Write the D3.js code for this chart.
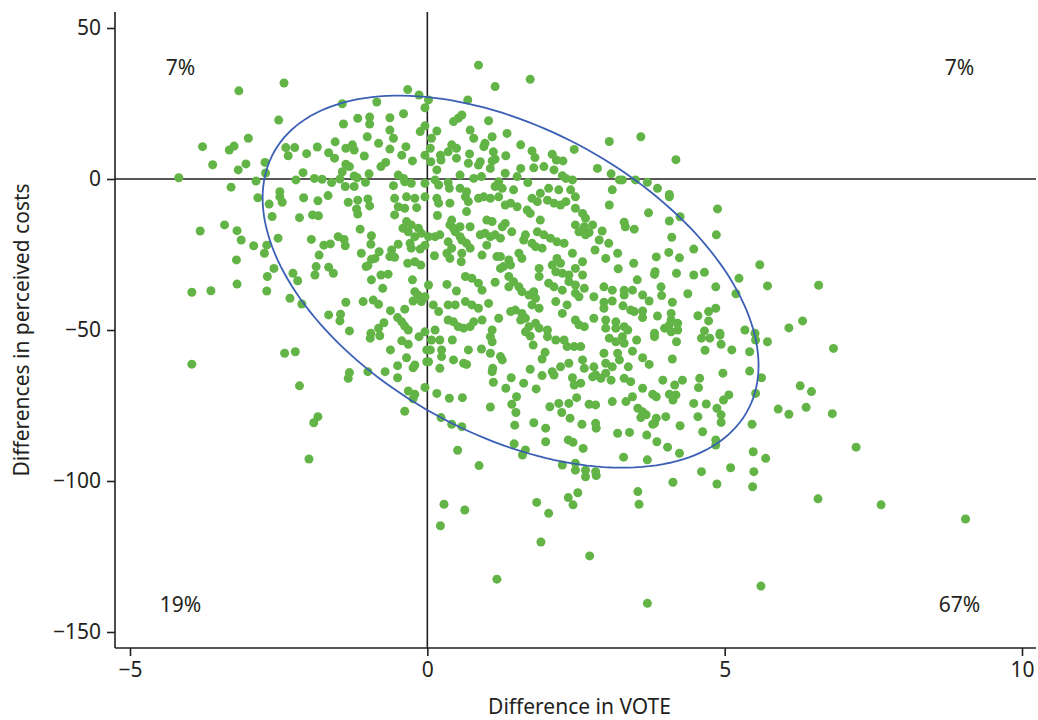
<!DOCTYPE html>
<html>
<head>
<meta charset="utf-8">
<script src="https://d3js.org/d3.v7.min.js"></script>
<style>
  body { margin: 0; background: #fff; }
  text { font-family: "Noto Sans", "Open Sans", sans-serif; fill: #231f20; }
</style>
</head>
<body>
<div id="viz"></div>
<script>
// difference in VOTE (x) vs difference in perceived costs (y)
var points = [
  [-3.17,29.2],[-3.78,10.7],[-3.33,9.6],[-3.25,10.9],[-3.01,13.5],[-3.61,4.7],[-3.18,3.0],[-3.05,5.0],[-4.18,0.4],[-2.88,-0.7],
  [-3.30,-2.7],[-2.85,-6.2],[-3.82,-17.2],[-3.41,-15.2],[-3.20,-17.1],[-3.13,-20.2],[-2.92,-22.1],[-3.21,-26.8],[-3.96,-37.5],[-3.64,-37.0],
  [-3.20,-34.8],[-3.96,-61.3],
  [-2.41,31.8],[-0.33,29.6],[-0.14,27.8],[-1.43,24.9],[-0.85,25.5],[-0.04,23.6],[-2.5,19.5],[-1.17,20.1],[-0.97,20.5],[-0.97,18.2],
  [-1.41,18.2],[-0.63,20.3],[-0.4,21.6],[-0.04,17.6],[-0.63,16.2],[-0.12,15.7],[-1.01,14.0],[-0.57,13.5],[-1.55,12.3],[-0.82,11.8],
  [-0.36,10.7],[-2.38,10.4],[-2.23,10.4],[-1.85,10.6],[-1.37,10.2],[-1.26,11.3],[-1.23,9.6],[-0.63,9.9],[-2.34,7.7],[-2.03,8.4],
  [-1.66,8.7],[-1.56,6.9],[-1.06,7.6],[-0.43,7.9],[-0.25,6.0],[-0.04,7.9],[-2.73,5.5],[-1.37,4.9],[-1.31,4.1],[-0.70,5.5],
  [-0.78,4.1],[-2.72,2.0],[-2.09,2.1],[-1.43,2.4],[-1.23,1.0],[-1.18,0.4],[-0.98,1.7],[-0.49,1.3],[-0.4,0.2],[-2.21,-0.3],
  [-1.9,0.2],[-1.77,-0.1],[-1.61,-1.2],[-1.47,0],[-1.04,-1.1],[-0.27,-1.4],[-0.38,-0.9],[-2.48,-4.2],[-1.38,-2.5],[-1.23,-2.5],
  [-0.57,-2.2],[-0.04,-1.4],
  [-2.66,-8.3],[-2.48,-5.9],[-2.44,-7.7],[-2.08,-6.2],[-1.84,-7.2],[-1.67,-5.5],[-1.33,-7.7],[-1.17,-7.0],[-1.0,-6.6],[-1.19,-9.9],
  [-1.17,-11.6],[-0.97,-8.9],[-0.55,-6.4],[-0.35,-5.9],[-0.21,-6.4],[-0.04,-5.9],[-0.49,-9.2],[-0.38,-9.7],[-0.18,-9.5],[-0.55,-11.9],
  [-2.61,-12.4],[-2.15,-12.8],[-1.93,-11.9],[-1.83,-12.2],[-0.35,-14.1],[-0.27,-15.2],[-0.41,-16.3],[-0.32,-17.5],[-0.15,-16.3],[-0.1,-18.0],
  [-0.21,-19.1],[-1.13,-16.6],[-0.94,-18.8],[-2.51,-19.6],[-1.95,-20.0],[-1.5,-19.1],[-1.4,-20.0],[-2.70,-21.9],[-2.74,-24.6],[-1.74,-21.9],
  [-1.63,-21.5],[-1.38,-22.1],[-0.95,-21.6],[-0.49,-21.6],[-0.29,-21.3],[-0.27,-22.9],[-0.12,-23.2],[-0.04,-21.9],[-1.82,-25.2],[-1.11,-24.6],
  [-0.81,-24.1],[-0.6,-23.5],[-0.55,-25.9],[-0.63,-25.7],[-0.94,-26.6],[-0.88,-26.3],[-1.0,-28.7],[-1.03,-29.0],[-0.33,-27.9],[-0.21,-27.4],
  [-0.11,-28.5],[-2.58,-29.6],[-2.26,-31.2],[-2.18,-33.7],[-1.87,-29.0],[-1.89,-31.8],[-1.66,-29.2],[-1.58,-31.2],[-2.69,-32.3],[-0.94,-33.4],
  [-0.78,-31.8],[-0.66,-31.5],[-0.75,-36.2],[-0.25,-33.4],[-2.70,-37.1],[-0.21,-37.3],[-0.16,-38.4],[-0.24,-40.4],[-0.1,-40.6],[-0.04,-39.0],
  [-2.31,-39.5],[-2.11,-41.4],[-1.37,-40.8],[-1.08,-40.6],[-0.91,-40.1],[-0.82,-41.5],[-0.62,-43.6],[-0.38,-43.1],[-1.66,-45.0],[-1.46,-44.8],
  [-1.47,-47.0],[-0.73,-47.6],[-0.82,-49.4],[-0.50,-45.9],[-0.43,-47.3],[-0.38,-48.7],[-1.31,-50.3],[-0.95,-51.1],[-0.32,-50.0],[-0.04,-50.6],
  [-0.96,-52.7],[-0.80,-51.9],[-0.43,-53.6],[-0.32,-54.7],[-0.14,-52.2],[-0.01,-56.6],[-2.40,-57.7],[-2.22,-57.2],[-0.62,-56.6],[-0.35,-59.2],
  [-0.50,-61.8],[-0.24,-62.5],[-0.21,-61.6],[-0.01,-60.5],[-1.31,-64.1],[-1.33,-66.0],[-1.0,-63.8],[-0.71,-63.8],[-0.50,-65.8],[-2.15,-68.5],
  [-0.32,-70.2],[-0.21,-71.3],[-0.24,-72.8],[-0.04,-69.0],[-0.38,-76.9],[-1.84,-78.7],[-1.91,-80.7],[-1.99,-92.7],
  [0.86,37.7],[1.73,33.0],[1.14,30.6],[0.02,26.2],[0.68,26.2],[0.58,21.2],[0.52,20.1],[0.44,19.0],[1.03,19.3],[0.16,15.9],
  [0.72,16.2],[0.78,13.5],[1.34,15.1],[1.09,14.0],[0.07,13.5],[0.05,10.2],[0.97,11.8],[0.95,10.7],[1.57,11.3],[0.41,11.3],
  [0.49,10.2],[0.35,9.0],[0.22,7.9],[0.23,6.3],[0.49,6.9],[0.71,8.3],[1.11,9.0],[1.14,6.6],[1.09,6.0],[1.32,7.7],
  [1.76,9.3],[1.81,7.1],[2.10,8.2],[2.17,6.3],[2.28,6.0],[2.47,9.8],[2.86,3.5],[0.06,5.7],[0.69,5.2],[0.89,5.7],
  [0.86,4.6],[1.06,3.5],[1.57,3.5],[1.79,3.7],[1.96,4.1],[2.13,3.0],[0.16,3.0],[0.55,1.3],[0.78,0.2],[0.91,0.8],
  [1.31,1.9],[1.51,0.8],[2.27,1.1],[2.33,0.2],[2.44,-0.3],[0.13,-0.3],[0.19,-2.0],[0.35,-1.2],[0.37,-3.1],[0.55,-3.1],
  [0.66,-4.2],[1.20,-0.9],[1.26,-3.1],[1.14,-2.5],[1.45,-3.6],[1.69,-1.2],[2.04,-3.1],[2.21,-3.6],[2.41,-3.6],[1.90,-4.7],
  [3.59,14.0],[3.06,12.4],[4.18,6.4],[3.09,1.7],[3.23,-0.3],[3.28,-0.3],[3.50,-0.3],[3.70,-1.1],[3.87,-3.1],[4.07,-5.1],
  [3.11,-3.6],
  [0.16,-6.4],[0.19,-8.0],[0.38,-8.0],[0.64,-5.9],[0.69,-7.5],[0.86,-6.4],[0.95,-5.9],[1.06,-6.4],[1.20,-5.9],[1.31,-8.6],
  [1.40,-8.0],[1.51,-9.2],[1.76,-6.4],[1.85,-7.5],[2.02,-7.0],[2.13,-8.0],[2.24,-8.6],[2.33,-7.5],[2.49,-5.9],[2.49,-9.7],
  [2.61,-11.4],[2.66,-13.0],[0.17,-12.1],[0.66,-10.8],[1.0,-13.6],[1.09,-14.1],[1.31,-14.7],[1.26,-15.8],[1.68,-10.3],[1.73,-11.4],
  [1.90,-13.6],[0.41,-13.6],[0.38,-15.2],[0.44,-16.3],[0.55,-15.8],[0.72,-15.8],[2.49,-15.2],[2.64,-15.8],[2.78,-15.2],[0.02,-19.1],
  [0.13,-19.1],[0.21,-18.5],[0.47,-17.5],[0.55,-19.1],[0.58,-20.2],[0.89,-18.5],[0.97,-18.0],[1.06,-19.1],[1.14,-18.5],[1.23,-19.6],
  [1.42,-17.5],[1.65,-18.5],[1.62,-20.2],[1.85,-17.5],[1.96,-18.5],[2.07,-19.6],[2.18,-20.8],[2.30,-21.3],[2.55,-17.5],[2.66,-18.5],
  [2.72,-17.7],[0.35,-20.8],[0.41,-22.9],[0.66,-21.3],[0.72,-22.9],[1.0,-21.9],[1.76,-21.3],[1.82,-22.4],[1.93,-22.9],[0.12,-25.4],
  [0.33,-24.6],[0.38,-26.3],[0.58,-24.6],[0.57,-27.4],[0.92,-25.2],[1.17,-25.7],[1.23,-25.7],[1.37,-26.8],[1.40,-28.5],[1.54,-24.6],
  [1.59,-26.3],[2.18,-26.3],[2.24,-27.9],[2.10,-28.5],[2.44,-24.6],[2.61,-27.4],[2.82,-23.5],[1.23,-29.6],[1.28,-29.0],[1.88,-29.6],
  [2.16,-30.7],[2.27,-31.2],[2.38,-31.8],[2.49,-29.6],[2.61,-31.8],[0.02,-35.1],[0.33,-34.9],[0.49,-37.1],[0.64,-32.3],[0.75,-32.9],
  [0.86,-34.5],[0.92,-36.8],[1.14,-34.2],[1.37,-32.3],[1.45,-34.0],[1.54,-35.7],[1.37,-35.7],[1.59,-37.3],[1.71,-38.4],[1.79,-37.3],
  [1.82,-39.5],[1.88,-32.3],[2.04,-34.5],[2.13,-35.7],[2.27,-36.8],[2.38,-34.0],[2.49,-35.1],[2.49,-37.8],[2.55,-39.0],[2.64,-36.2],
  [2.80,-39.0],[0.10,-41.7],[0.35,-41.7],[0.47,-41.7],[0.64,-40.6],[0.75,-41.7],[0.86,-42.8],[1.03,-41.2],[1.48,-43.4],[1.59,-44.5],
  [1.57,-46.7],[1.76,-41.7],[1.88,-42.8],[2.16,-40.6],[2.35,-41.7],[0.19,-43.9],[0.35,-46.7],[0.44,-47.3],[0.52,-48.9],[0.61,-49.4],
  [0.72,-48.9],[0.78,-47.3],[0.92,-46.7],[1.20,-46.1],[1.40,-43.9],[1.65,-46.1],[1.71,-48.9],[1.82,-47.8],[1.88,-49.4],[2.02,-50.0],
  [2.27,-44.5],[2.49,-46.7],[2.55,-48.3],[2.64,-48.9],[2.80,-46.1],[0.13,-50.0],[1.09,-50.0],[1.65,-50.6],
  [0.07,-53.3],[0.21,-53.3],[0.42,-53.3],[0.05,-56.6],[0.24,-56.6],[0.24,-58.8],[0.69,-56.6],[0.91,-56.3],[1.06,-52.2],[1.09,-53.9],
  [1.06,-57.7],[1.23,-58.8],[1.26,-59.9],[1.73,-52.0],[1.78,-55.0],[1.98,-57.4],[1.93,-59.6],[2.02,-52.2],[2.16,-53.3],[2.30,-53.3],
  [2.35,-55.5],[2.47,-55.5],[2.58,-55.5],[0.02,-60.5],[0.44,-59.9],[0.61,-61.0],[0.66,-61.4],[0.21,-62.7],[1.10,-62.7],[1.09,-63.8],
  [1.73,-63.0],[1.93,-65.1],[2.10,-63.8],[2.13,-64.9],[2.24,-62.2],[2.38,-61.0],[2.61,-59.9],[2.64,-62.7],[2.80,-62.2],[2.83,-64.9],
  [2.78,-65.5],[1.11,-67.3],[1.41,-65.8],[1.62,-67.6],[2.44,-65.8],[2.47,-68.2],[2.58,-67.6],[1.32,-69.3],[1.83,-69.5],[0.16,-71.0],
  [0.37,-72.6],[0.59,-72.4],[1.50,-72.1],[1.42,-74.6],[1.49,-77.3],[2.51,-72.4],[1.06,-75.5],[2.06,-75.4],[2.21,-74.3],[2.38,-74.3],
  [2.26,-77.3],[2.72,-74.6],[2.83,-74.8],[2.40,-79.2],[0.23,-79.0],[0.41,-81.2],[0.58,-82.0],[1.47,-81.5],[1.79,-80.7],[1.99,-82.5],
  [2.60,-81.2],[2.83,-80.9],[2.84,-82.5],[1.99,-87.0],[2.37,-86.4],[2.45,-87.2],[2.62,-89.2],[0.51,-89.8],[1.46,-87.7],[1.65,-89.7],
  [1.60,-91.4],[0.87,-94.9],[2.27,-94.7],[2.49,-94.1],[2.49,-96.4],[2.66,-96.4],[2.83,-96.9],
  [4.07,-5.9],[3.06,-8.6],[3.72,-11.2],[4.25,-12.5],[4.88,-9.9],[4.07,-13.9],[3.31,-14.3],[3.33,-15.8],[3.48,-16.6],[2.94,-17.2],
  [2.89,-20.2],[4.11,-19.3],[4.86,-18.5],[3.05,-21.3],[3.20,-24.6],[3.00,-26.3],[4.48,-23.2],[4.06,-24.3],[3.85,-25.8],[4.24,-26.1],
  [3.47,-27.9],[5.59,-28.4],[3.21,-29.7],[3.83,-30.7],[3.82,-31.6],[4.19,-31.2],[4.48,-31.8],[4.66,-30.9],[5.24,-32.9],[3.53,-33.4],
  [2.97,-35.7],[3.11,-36.8],[3.31,-36.8],[3.31,-38.4],[3.45,-36.8],[3.93,-35.7],[4.85,-35.7],[5.72,-35.4],[3.62,-38.4],[3.73,-40.4],
  [3.94,-38.6],[4.38,-38.0],[5.19,-38.0],[2.97,-40.8],[3.11,-40.4],[2.97,-42.8],[3.29,-42.0],[4.12,-40.8],[3.42,-43.4],[3.48,-43.9],
  [3.62,-43.7],[3.62,-45.9],[4.10,-44.5],[4.10,-46.7],[3.87,-45.4],[4.73,-43.9],[4.85,-42.8],[4.55,-45.3],[4.73,-47.0],[3.0,-46.7],
  [3.17,-47.3],[3.31,-48.9],[3.17,-49.4],[3.37,-50.0],[3.0,-49.4],[3.99,-49.4],[4.07,-48.3],[4.21,-47.8],[4.10,-50.6],[4.21,-50.0],
  [3.82,-51.1],[4.66,-50.3],[4.92,-51.1],[5.34,-50.0],[5.51,-51.1],
  [3.06,-52.7],[3.17,-53.9],[3.31,-54.4],[3.28,-52.2],[2.97,-57.7],[3.20,-57.7],[3.23,-59.9],[3.0,-61.0],[3.45,-57.0],[3.62,-59.2],
  [3.73,-61.4],[3.52,-53.3],[3.82,-52.2],[4.19,-53.9],[4.61,-52.7],[4.75,-52.7],[4.92,-51.7],[4.94,-54.7],[5.12,-56.6],[4.67,-56.7],
  [5.42,-57.2],[5.52,-53.3],[4.12,-59.6],[3.38,-62.2],[3.11,-62.2],[3.0,-64.3],[2.92,-66.0],[3.09,-66.6],[3.31,-66.0],[3.42,-67.1],
  [3.96,-66.6],[4.29,-66.6],[4.58,-66.0],[4.56,-69.1],[4.97,-64.3],[5.42,-63.6],[5.62,-65.8],[3.62,-69.3],[4.16,-68.2],[4.07,-71.3],
  [4.18,-71.5],[4.13,-73.2],[3.79,-71.3],[3.85,-72.1],[3.45,-72.1],[3.34,-73.7],[3.11,-73.7],[4.48,-74.3],[4.69,-74.5],[5.07,-71.5],
  [4.98,-73.2],[5.52,-71.0],[3.54,-75.9],[3.62,-77.1],[3.68,-78.1],[3.59,-79.0],[3.85,-79.2],[4.01,-78.7],[4.87,-75.9],[4.94,-78.1],
  [4.94,-80.6],[4.55,-78.7],[3.82,-80.9],[3.79,-81.2],[4.25,-81.7],[5.46,-81.2],[3.20,-84.2],[3.40,-83.9],[3.69,-84.8],[4.63,-83.7],
  [3.86,-87.0],[4.04,-88.8],[4.24,-90.8],[4.85,-86.4],[4.85,-88.1],[5.48,-90.3],[5.69,-92.5],[3.30,-92.1],[3.70,-93.0],[5.10,-95.6],
  [4.61,-96.9],[5.49,-96.9],
  [6.58,-35.2],[6.31,-47.0],[6.08,-49.3],[5.72,-53.9],[6.83,-56.1],[6.27,-68.5],[6.46,-70.4],[5.90,-76.2],[6.08,-77.9],[6.37,-75.6],
  [6.81,-77.7],[7.21,-88.8],[6.57,-105.9],[7.63,-107.9],[9.05,-112.6],
  [0.28,-107.7],[0.63,-109.6],[0.22,-114.8],[1.84,-107.1],[2.04,-110.7],[2.37,-105.5],[2.53,-103.9],[2.45,-107.9],[2.66,-98.6],[2.84,-98.2],
  [3.54,-103.5],[3.56,-107.7],[4.13,-100.4],[4.87,-101.0],[5.47,-101.9],[1.91,-120.2],[2.73,-124.8],[1.17,-132.5],[5.61,-134.8],[3.70,-140.5]
];

// confidence ellipse: centre, half extents along each axis, correlation
var ellipseCentre = [1.4, -34.0],
    ellipseHalf   = [4.17, 61.6],
    ellipseRho    = -0.45;

var xTicks = [-5, 0, 5, 10],
    yTicks = [50, 0, -50, -100, -150];

var quadrantLabels = [
  {text: '7%',  x: -4.15, y: 37},
  {text: '7%',  x: 8.95,  y: 37},
  {text: '19%', x: -4.15, y: -141},
  {text: '67%', x: 8.95,  y: -141}
];

var width = 1038, height = 720,
    plotLeft = 115, plotRight = 1036, plotTop = 12, plotBottom = 648,

    svg = d3.select('#viz')
        .append('svg')
            .attr('width', width)
            .attr('height', height),

    x = d3.scaleLinear().domain([-5, 10]).range([130, 1022]),
    y = d3.scaleLinear().domain([-150, 50]).range([632, 28]),

    ink = '#231f20';

// reference lines at zero
svg.append('line')
    .attr('x1', plotLeft).attr('x2', plotRight)
    .attr('y1', y(0)).attr('y2', y(0))
    .style('stroke', ink).style('stroke-width', 1.6);

svg.append('line')
    .attr('x1', x(0)).attr('x2', x(0))
    .attr('y1', plotTop).attr('y2', plotBottom)
    .style('stroke', ink).style('stroke-width', 1.6);

// axes
var yAxis = svg.append('g')
    .attr('transform', 'translate(' + plotLeft + ',0)')
    .call(d3.axisLeft(y).tickValues(yTicks).tickSize(8).tickPadding(6));

var xAxis = svg.append('g')
    .attr('transform', 'translate(0,' + plotBottom + ')')
    .call(d3.axisBottom(x).tickValues(xTicks).tickSize(8).tickPadding(6));

[xAxis, yAxis].forEach(function (g) {
    g.select('.domain').remove();
    g.selectAll('line').style('stroke', ink).style('stroke-width', 1.6);
    g.selectAll('text')
        .style('font-size', '21px')
        .style('font-family', '"Noto Sans", sans-serif')
        .style('fill', ink);
});

svg.append('line')
    .attr('x1', plotLeft).attr('x2', plotLeft)
    .attr('y1', plotTop).attr('y2', plotBottom)
    .style('stroke', ink).style('stroke-width', 1.6);

svg.append('line')
    .attr('x1', plotLeft).attr('x2', plotRight)
    .attr('y1', plotBottom).attr('y2', plotBottom)
    .style('stroke', ink).style('stroke-width', 1.6);

// dots
svg.append('g')
    .attr('class', 'dots')
    .selectAll('circle')
    .data(points)
    .enter()
    .append('circle')
        .attr('cx', function (d) { return x(d[0]); })
        .attr('cy', function (d) { return y(d[1]); })
        .attr('r', 4.5)
        .style('fill', '#62b446');

// ellipse
var ellipsePts = d3.range(0, 2 * Math.PI, Math.PI / 90).map(function (t) {
    return [
        ellipseCentre[0] + ellipseHalf[0] * Math.cos(t),
        ellipseCentre[1] + ellipseHalf[1] * (ellipseRho * Math.cos(t) + Math.sqrt(1 - ellipseRho * ellipseRho) * Math.sin(t))
    ];
});

svg.append('path')
    .attr('d', d3.line()
        .x(function (d) { return x(d[0]); })
        .y(function (d) { return y(d[1]); })
        .curve(d3.curveLinearClosed)(ellipsePts))
    .style('fill', 'none')
    .style('stroke', '#3b5fb4')
    .style('stroke-width', 1.8);

// quadrant shares
svg.append('g')
    .selectAll('text')
    .data(quadrantLabels)
    .enter()
    .append('text')
        .attr('x', function (d) { return x(d.x); })
        .attr('y', function (d) { return y(d.y); })
        .attr('text-anchor', 'middle')
        .attr('dy', '0.35em')
        .style('font-size', '21px')
        .text(function (d) { return d.text; });

// axis titles
svg.append('text')
    .attr('x', (plotLeft + plotRight) / 2 + 4)
    .attr('y', 714)
    .attr('text-anchor', 'middle')
    .style('font-size', '21px')
    .text('Difference in VOTE');

svg.append('text')
    .attr('transform', 'translate(29,' + ((plotTop + plotBottom) / 2) + ') rotate(-90)')
    .attr('text-anchor', 'middle')
    .style('font-size', '21px')
    .text('Differences in perceived costs');
</script>
</body>
</html>
